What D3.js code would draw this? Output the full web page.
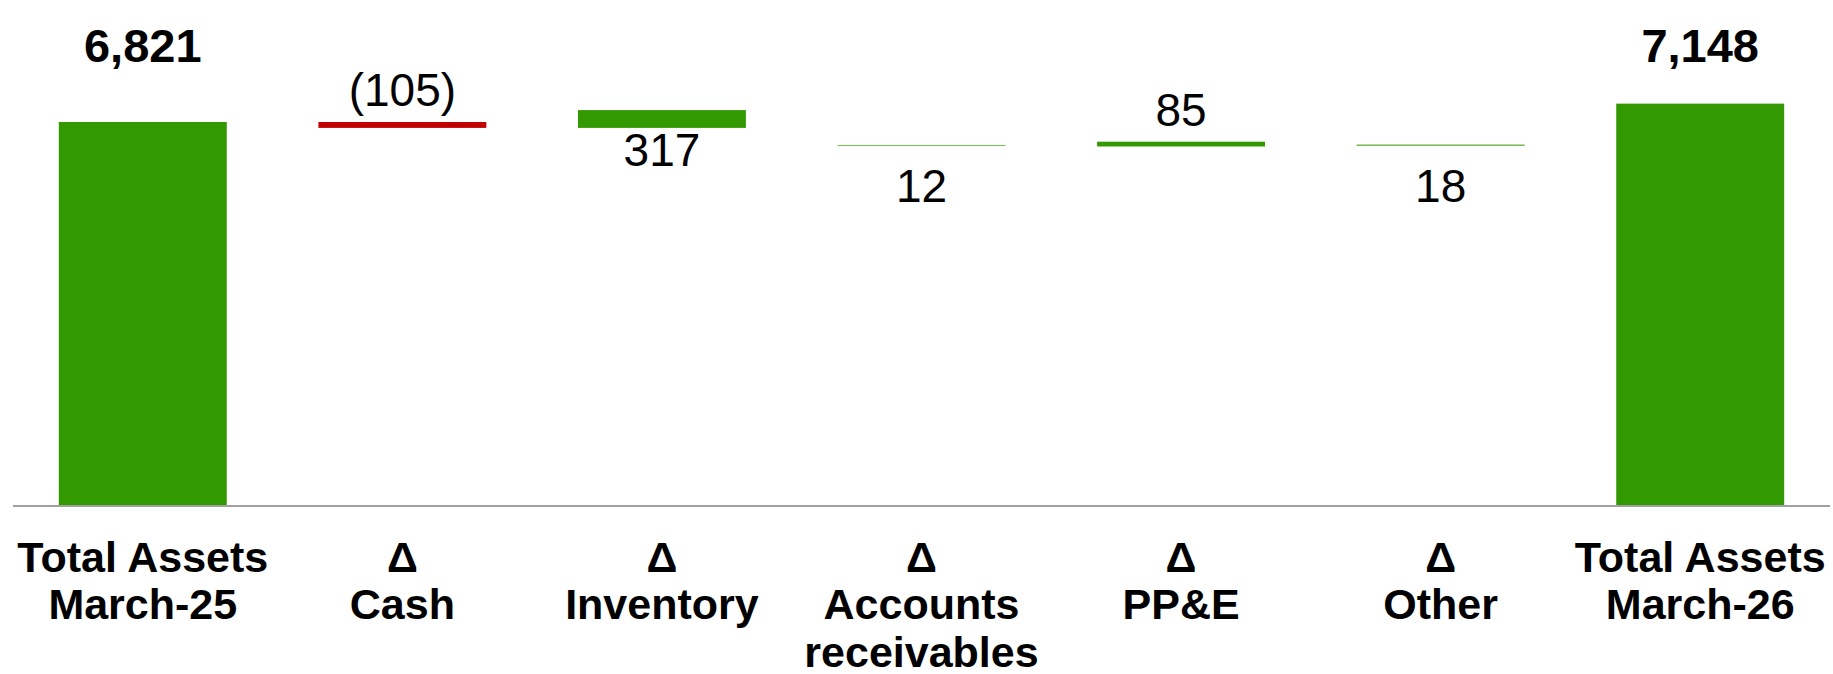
<!DOCTYPE html>
<html>
<head>
<meta charset="utf-8">
<script src="https://cdn.jsdelivr.net/npm/d3@7"></script>
<style>
  html, body { margin: 0; padding: 0; background: #fff; }
  svg { display: block; font-family: "Liberation Sans", Arial, sans-serif; }
</style>
</head>
<body>
<svg id="chart"></svg>
<script>
/* global d3 */

// category labels, one entry per line
var categories = [
  ['Total Assets', 'March-25'],
  ['\u0394', 'Cash'],
  ['\u0394', 'Inventory'],
  ['\u0394', 'Accounts', 'receivables'],
  ['\u0394', 'PP&E'],
  ['\u0394', 'Other'],
  ['Total Assets', 'March-26']
];
var values = [6821, -105, 317, 12, 85, 18, 7148];
// invisible base series under each floating bar (as drawn in the original)
var bases = [0, 6716, 6716, 6400, 6385, 6400, 0];
var isTotal = [true, false, false, false, false, false, true];
var labelSide = ['above', 'above', 'below', 'below', 'above', 'below', 'above'];

var width = 1833, height = 674;
var green = '#339900', red = '#c00000';

var svg = d3.select('#chart')
    .attr('width', width)
    .attr('height', height);

var x = d3.scaleBand()
    .domain(d3.range(categories.length))
    .range([13, 1830])
    .paddingInner(0.353)
    .paddingOuter(0.1765);

var y = d3.scaleLinear()
    .domain([0, 8000])
    .range([505, 55.8]);

var fmtTotal = d3.format(',');
function fmt(v, i) {
  if (isTotal[i]) return fmtTotal(v);
  return v < 0 ? '(' + Math.abs(v) + ')' : String(v);
}

var data = values.map(function (v, i) {
  return {
    i: i,
    value: v,
    lo: bases[i],
    hi: bases[i] + Math.abs(v)
  };
});

svg.selectAll('.bar')
  .data(data)
  .enter().append('rect')
  .attr('class', 'bar')
  .attr('x', function (d) { return x(d.i); })
  .attr('width', x.bandwidth())
  .attr('y', function (d) { return y(d.hi); })
  .attr('height', function (d) { return y(d.lo) - y(d.hi); })
  .style('fill', function (d) { return d.value < 0 ? red : green; });

// baseline
svg.append('line')
  .attr('x1', x.range()[0])
  .attr('x2', x.range()[1])
  .attr('y1', y(0) + 1)
  .attr('y2', y(0) + 1)
  .style('stroke', '#a0a0a0')
  .style('stroke-width', 2);

// value labels
var maxTotal = d3.max(data.filter(function (d) { return isTotal[d.i]; }), function (d) { return d.hi; });
svg.selectAll('.value')
  .data(data)
  .enter().append('text')
  .attr('class', 'value')
  .attr('text-anchor', 'middle')
  .attr('x', function (d) { return x(d.i) + x.bandwidth() / 2; })
  .attr('y', function (d) {
    if (isTotal[d.i]) return y(maxTotal) - 42;
    if (labelSide[d.i] === 'above') return y(d.hi) - 16;
    // hairline bars get their label pushed further down
    var h = y(d.lo) - y(d.hi);
    return y(d.lo) + (h < 2 ? 56 : 38);
  })
  .style('font-size', function (d) { return isTotal[d.i] ? '47px' : '46px'; })
  .style('font-weight', function (d) { return isTotal[d.i] ? 'bold' : 'normal'; })
  .style('fill', '#000')
  .text(function (d) { return fmt(d.value, d.i); });

// category labels
var cat = svg.selectAll('.cat')
  .data(categories)
  .enter().append('text')
  .attr('class', 'cat')
  .attr('text-anchor', 'middle')
  .attr('x', function (d, i) { return x(i) + x.bandwidth() / 2; })
  .attr('y', 571.5)
  .style('font-size', '43px')
  .style('font-weight', 'bold')
  .style('fill', '#000');

cat.selectAll('tspan')
  .data(function (d, i) { return d.map(function (t) { return {t: t, i: i}; }); })
  .enter().append('tspan')
  .attr('x', function (d) { return x(d.i) + x.bandwidth() / 2; })
  .attr('dy', function (d, j) { return j === 0 ? 0 : 47.5; })
  .text(function (d) { return d.t; });
</script>
</body>
</html>
